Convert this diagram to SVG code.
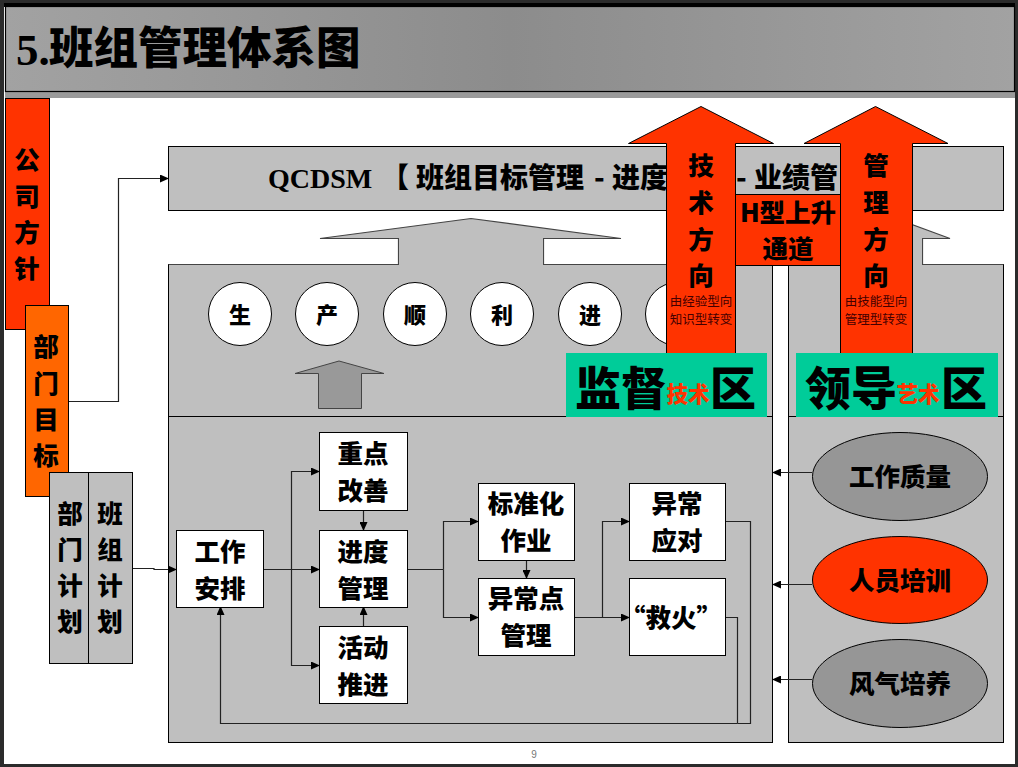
<svg xmlns="http://www.w3.org/2000/svg" width="1018" height="767" viewBox="0 0 1018 767">
<style>
text{font-family:"Noto Sans CJK SC","Liberation Sans",sans-serif;font-weight:900;fill:#000;text-anchor:middle}
.b{stroke:#000;stroke-width:1}
.g{fill:#bfbfbf}
.w{fill:#fff}
.o{fill:#ff3300}
.t26{font-size:25.500px}
.t22{font-size:22px}
.sm{font-size:12.500px;font-weight:400;fill:#400}
.big{font-size:46px}
.red{font-size:21.500px;fill:#ff3300}
.c{fill:none;stroke:#222;stroke-width:1.200}
.s{font-family:"Liberation Serif",serif;font-weight:700}
</style>
<defs>
<marker id="a" markerWidth="9" markerHeight="8" refX="8" refY="4" orient="auto" markerUnits="userSpaceOnUse"><path d="M0 0L9 4L0 8Z" fill="#000"/></marker>
<linearGradient id="tg" x1="0" x2="1" y1="0" y2="0"><stop offset="0" stop-color="#a2a2a2"/><stop offset=".5" stop-color="#8c8c8c"/><stop offset="1" stop-color="#a2a2a2"/></linearGradient>
</defs>
<rect width="1018" height="767" fill="#2b2b2b"/>
<rect x="4" y="6" width="1011" height="758" fill="#fff"/>
<g id="title">
<rect x="5" y="91" width="1010" height="7" fill="#9a9a9a"/>
<rect x="5.500" y="6.500" width="1009" height="85" fill="url(#tg)" stroke="#000" stroke-width="1.200"/>
<rect x="4" y="3" width="1011" height="4" fill="#000"/>
<text x="16" y="65" class="s" font-size="45" style="text-anchor:start">5.</text>
<text x="49" y="64" font-size="44.500" style="text-anchor:start">班组管理体系图</text>
</g>
<g id="panels">
<rect id="panel-left" class="g b" x="168.500" y="264.500" width="604" height="478"/>
<rect id="panel-right" class="g b" x="788.500" y="264.500" width="215" height="478"/>
<path d="M168 416.500H772M788 416.500H1003" class="b"/>
<path id="up-arrow-left" class="g" stroke="#444" stroke-width="1.200" d="M168.500 264.500H398.500V238.500H320L471 218.500L621 238.500H543.500V264.500H772"/>
<rect class="g" x="399" y="238" width="144" height="28"/>
<path id="up-arrow-right" class="g" stroke="#444" stroke-width="1.200" d="M788.500 264.500V238.500H800L875 211L950 238.500H922.500V264.500H1003.500"/>
<rect class="g" x="789" y="238" width="133" height="28"/>
<path id="up-arrow-small" fill="#999" stroke="#444" stroke-width="1" d="M318.500 408.500V373.500H295L339 361L384 373.500H361.500V408.500Z"/>
</g>
<g id="qcdsm">
<rect class="g b" x="168.500" y="146.500" width="835" height="64"/>
<text y="188" font-size="28" style="text-anchor:start"><tspan x="268" class="s">QCDSM</tspan><tspan x="381">【</tspan><tspan x="416">班组目标管理</tspan><tspan x="594">-</tspan><tspan x="612">进度</tspan></text>
<text y="188" font-size="28" style="text-anchor:start"><tspan x="736">-</tspan><tspan x="754">业绩管</tspan></text>
</g>
<g id="circles">
<g id="c1"><circle class="w b" cx="240" cy="314" r="31.500"/><text class="t22" x="240" y="323">生</text></g>
<g id="c2"><circle class="w b" cx="327" cy="314" r="31.500"/><text class="t22" x="327" y="323">产</text></g>
<g id="c3"><circle class="w b" cx="415" cy="314" r="31.500"/><text class="t22" x="415" y="323">顺</text></g>
<g id="c4"><circle class="w b" cx="502" cy="314" r="31.500"/><text class="t22" x="502" y="323">利</text></g>
<g id="c5"><circle class="w b" cx="590" cy="314" r="31.500"/><text class="t22" x="590" y="323">进</text></g>
<g id="c6"><circle class="w b" cx="677" cy="314" r="31.500"/></g>
</g>
<g id="connectors">
<path class="c" marker-end="url(#a)" d="M68 401.500H118.500V178.500H168"/>
<path class="c" marker-end="url(#a)" d="M132 568.500H154V569.500H176"/>
<path class="c" marker-end="url(#a)" d="M263 569.500H319"/>
<path class="c" marker-end="url(#a)" d="M291.500 569.500V471.500H319"/>
<path class="c" marker-end="url(#a)" d="M291.500 569.500V665.500H319"/>
<path class="c" marker-end="url(#a)" d="M363.500 510V530"/>
<path class="c" marker-end="url(#a)" d="M363.500 626V607"/>
<path class="c" d="M407 569.500H443.500"/>
<path class="c" marker-end="url(#a)" d="M443.500 569.500V521.500H478"/>
<path class="c" marker-end="url(#a)" d="M443.500 569.500V617.500H478"/>
<path class="c" marker-end="url(#a)" d="M526.500 560V578"/>
<path class="c" marker-end="url(#a)" d="M574 617.500H629"/>
<path class="c" marker-end="url(#a)" d="M602.500 617.500V521.500H629"/>
<path class="c" d="M725 521.500H750.500V723.500H737.500"/>
<path class="c" d="M725 617.500H737.500V723.500"/>
<path class="c" marker-end="url(#a)" d="M737.500 723.500H220.500V607"/>
<path class="c" marker-end="url(#a)" d="M812 472.500H773"/>
<path class="c" marker-end="url(#a)" d="M812 584.500H773"/>
<path class="c" marker-end="url(#a)" d="M812 679.500H773"/>
</g>
<g id="company-policy"><rect class="o b" x="5.500" y="98.500" width="44" height="231"/>
<text class="t26" x="27" y="169">公</text><text class="t26" x="27" y="206">司</text><text class="t26" x="27" y="242">方</text><text class="t26" x="27" y="278">针</text></g>
<g id="dept-goal"><rect fill="#ff6600" class="b" x="25.500" y="305.500" width="43" height="191"/>
<text class="t26" x="46" y="356">部</text><text class="t26" x="46" y="393">门</text><text class="t26" x="46" y="429">目</text><text class="t26" x="46" y="465">标</text></g>
<g id="dept-plan"><rect class="g b" x="49.500" y="472.500" width="39" height="191"/>
<text class="t26" x="70" y="523">部</text><text class="t26" x="70" y="559">门</text><text class="t26" x="70" y="595">计</text><text class="t26" x="70" y="631">划</text></g>
<g id="team-plan"><rect class="g b" x="88.500" y="472.500" width="44" height="191"/>
<text class="t26" x="110" y="523">班</text><text class="t26" x="110" y="559">组</text><text class="t26" x="110" y="595">计</text><text class="t26" x="110" y="631">划</text></g>
<g id="n-arrange"><rect class="w b" x="176.500" y="530.500" width="87" height="77"/><text class="t26" x="220" y="561">工作</text><text class="t26" x="220" y="598">安排</text></g>
<g id="n-focus"><rect class="w b" x="319.500" y="432.500" width="88" height="78"/><text class="t26" x="363" y="463">重点</text><text class="t26" x="363" y="500">改善</text></g>
<g id="n-progress"><rect class="w b" x="319.500" y="530.500" width="88" height="77"/><text class="t26" x="363" y="561">进度</text><text class="t26" x="363" y="598">管理</text></g>
<g id="n-activity"><rect class="w b" x="319.500" y="626.500" width="88" height="77"/><text class="t26" x="363" y="657">活动</text><text class="t26" x="363" y="694">推进</text></g>
<g id="n-standard"><rect class="w b" x="478.500" y="483.500" width="96" height="77"/><text class="t26" x="526" y="513">标准化</text><text class="t26" x="526" y="550">作业</text></g>
<g id="n-abnormal-point"><rect class="w b" x="478.500" y="578.500" width="96" height="77"/><text class="t26" x="526" y="608">异常点</text><text class="t26" x="526" y="645">管理</text></g>
<g id="n-abnormal"><rect class="w b" x="629.500" y="483.500" width="96" height="77"/><text class="t26" x="677" y="513">异常</text><text class="t26" x="677" y="550">应对</text></g>
<g id="n-fire"><rect class="w b" x="629.500" y="578.500" width="96" height="77"/><text class="t26" x="671" y="627">“救火”</text></g>
<g id="e-quality"><ellipse fill="#969696" class="b" cx="900" cy="476.500" rx="87.500" ry="44"/><text class="t26" x="900" y="486">工作质量</text></g>
<g id="e-training"><ellipse class="o b" cx="900" cy="580" rx="87.500" ry="43.500"/><text class="t26" x="900" y="590">人员培训</text></g>
<g id="e-culture"><ellipse fill="#969696" class="b" cx="900" cy="683.500" rx="87.500" ry="44"/><text class="t26" x="900" y="693">风气培养</text></g>
<g id="h-channel"><rect class="o b" x="735.500" y="194.500" width="105" height="71"/>
<text class="t26" x="788" y="222">H型上升</text><text class="t26" x="788" y="258">通道</text></g>
<g id="arrow-tech"><path class="o b" d="M666.500 353.500V143.500H628.500L701 106.500L773.500 143.500H735.500V353.500Z"/>
<text class="t26" x="701" y="175">技</text><text class="t26" x="701" y="212">术</text><text class="t26" x="701" y="249">方</text><text class="t26" x="701" y="285">向</text>
<text class="sm" x="701" y="306">由经验型向</text><text class="sm" x="701" y="324">知识型转变</text></g>
<g id="arrow-mgmt"><path class="o b" d="M840.500 353.500V143.500H804L875.500 106.500L948 143.500H912.500V353.500Z"/>
<text class="t26" x="876" y="175">管</text><text class="t26" x="876" y="212">理</text><text class="t26" x="876" y="249">方</text><text class="t26" x="876" y="285">向</text>
<text class="sm" x="876" y="306">由技能型向</text><text class="sm" x="876" y="324">管理型转变</text></g>
<g id="zone-supervise"><rect fill="#00cc99" x="566" y="353" width="201" height="64"/>
<text class="big" x="621" y="405">监督</text><text class="red" x="688" y="402">技术</text><text class="big" x="733" y="405">区</text></g>
<g id="zone-lead"><rect fill="#00cc99" x="796" y="353" width="202" height="64"/>
<text class="big" x="851" y="405">领导</text><text class="red" x="918" y="402">艺术</text><text class="big" x="964" y="405">区</text></g>
<text x="534" y="758" font-size="10" style="font-family:'Liberation Sans',sans-serif;font-weight:400;fill:#777">9</text>
</svg>
